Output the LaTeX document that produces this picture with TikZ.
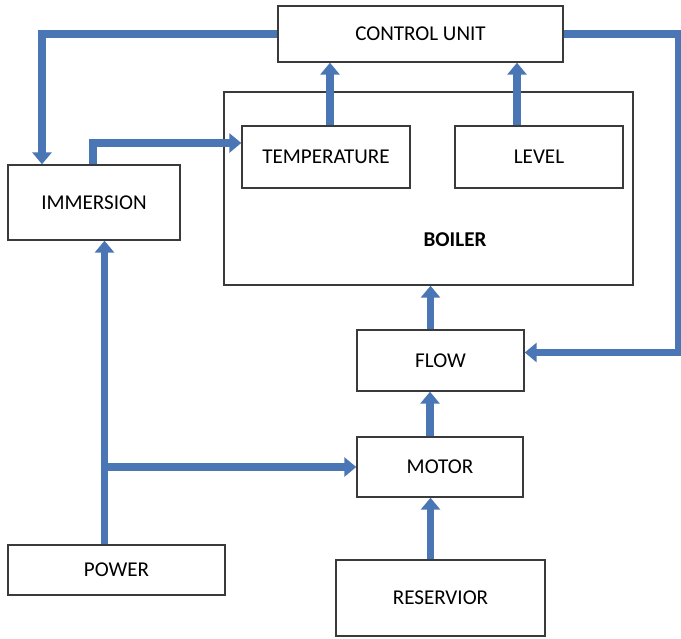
\documentclass[tikz,border=0pt]{standalone}
\usepackage{fontspec}
\setmainfont{Carlito}
\usetikzlibrary{arrows.meta, calc}
\definecolor{pipeblue}{HTML}{4A76B6}
\definecolor{boxline}{HTML}{3A3A3A}

\tikzset{
  unit/.style={draw=boxline, line width=1pt, fill=white, inner sep=0pt,
    font=\fontsize{15}{17}\selectfont},
  link/.style={draw=pipeblue, line width=5.5pt, line join=miter,
    -{Triangle[width=13.5pt,length=8.5pt]}},
}

\begin{document}
\begin{tikzpicture}[x=0.025cm, y=-0.025cm]
  \useasboundingbox (0,0) rectangle (681,638);

  % boxes
  \node[unit, minimum width=7.125cm, minimum height=1.4cm] (ctrl) at (420.5,34) {CONTROL UNIT};
  \node[unit, minimum width=10.225cm, minimum height=4.825cm] (boiler) at (428.5,188.5) {};
  \node[font=\fontsize{15}{17}\selectfont\bfseries] (boilertxt) at (455,240) {BOILER};
  \node[unit, minimum width=4.2cm, minimum height=1.55cm] (temp) at (326,157) {TEMPERATURE};
  \node[unit, minimum width=4.2cm, minimum height=1.55cm] (level) at (539,157) {LEVEL};
  \node[unit, minimum width=4.3cm, minimum height=1.875cm] (imm) at (94,202.5) {IMMERSION};
  \node[unit, minimum width=4.175cm, minimum height=1.525cm] (flow) at (440.5,360.5) {FLOW};
  \node[unit, minimum width=4.15cm, minimum height=1.5cm] (motor) at (440,467) {MOTOR};
  \node[unit, minimum width=5.425cm, minimum height=1.25cm] (power) at (116.5,570) {POWER};
  \node[unit, minimum width=5.225cm, minimum height=1.9cm] (reserv) at (440.5,598) {RESERVIOR};

  % connectors
  \coordinate (pwrup) at ($(power.north)+(-12,0)$);
  \draw[link] (ctrl.west) -| ($(imm.north)+(-52,0)$);
  \draw[link] ($(imm.north)+(-1,0)$) |- ($(temp.west)+(0,-14)$);
  \draw[link] ($(temp.north)+(4,0)$) -- ($(temp.north |- ctrl.south)+(4,0)$);
  \draw[link] ($(level.north)+(-22,0)$) -- ($(level.north |- ctrl.south)+(-22,0)$);
  \draw[link] (ctrl.east) -- ++(115,0) |- ($(flow.east)+(0,-8)$);
  \draw[link] ($(flow.north)+(-10,0)$) -- ($(flow.north |- boiler.south)+(-10,0)$);
  \draw[link] ($(motor.north)+(-10,0)$) -- ($(motor.north |- flow.south)+(-10,0)$);
  \draw[link] ($(reserv.north)+(-10,0)$) -- ($(reserv.north |- motor.south)+(-10,0)$);
  \draw[link] (pwrup) -- (pwrup |- imm.south);
  \draw[link] (pwrup |- motor.west) -- (motor.west);
\end{tikzpicture}
\end{document}
